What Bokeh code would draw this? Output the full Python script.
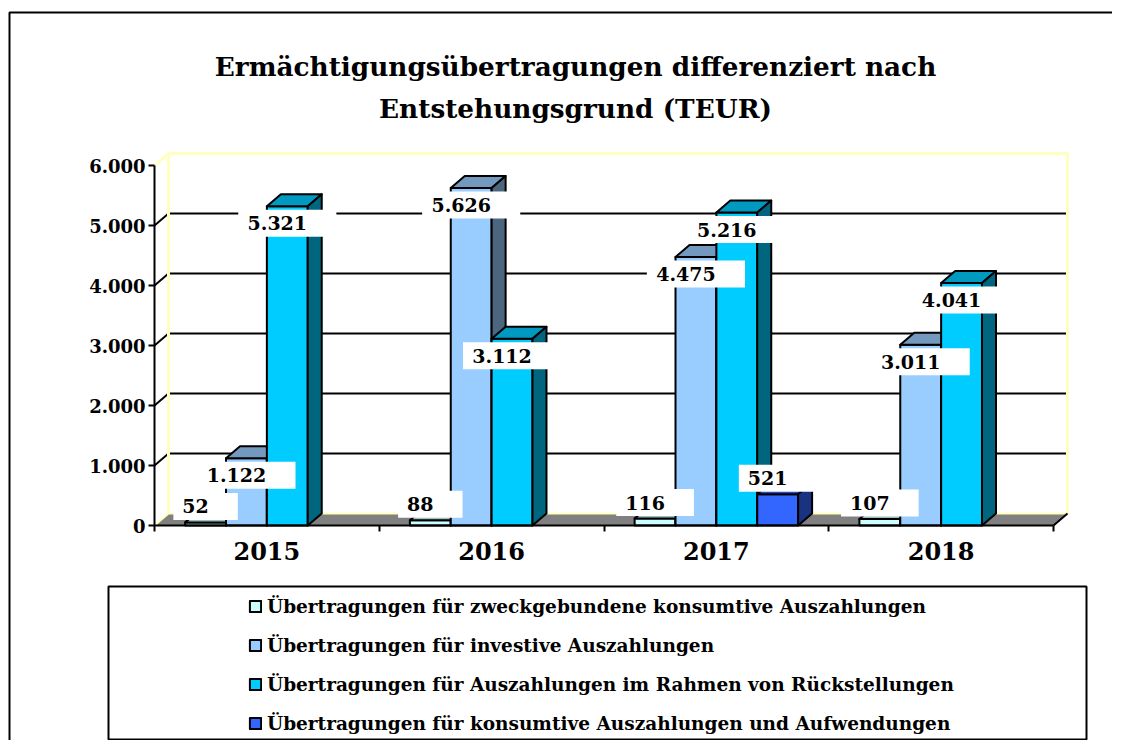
import numpy as np
from bokeh.plotting import figure
from bokeh.models import (Range1d, LinearAxis, FixedTicker, ColumnDataSource,
                          Legend, LegendItem)
from bokeh.core.properties import value
from bokeh.embed import file_html
from bokeh.resources import INLINE

# ---------------- data ----------------
years = ["2015", "2016", "2017", "2018"]
series_names = [
    "Übertragungen für zweckgebundene konsumtive Auszahlungen",
    "Übertragungen für investive Auszahlungen",
    "Übertragungen für Auszahlungen im Rahmen von Rückstellungen",
    "Übertragungen für konsumtive Auszahlungen und Aufwendungen",
]
zweckgebunden = [52, 88, 116, 107]
investiv = [1122, 5626, 4475, 3011]
rueckstellungen = [5321, 3112, 5216, 4041]
konsumtiv = [0, 0, 521, 0]
y_ticks = [0, 1000, 2000, 3000, 4000, 5000, 6000]
title_lines = ["Ermächtigungsübertragungen differenziert nach",
               "Entstehungsgrund (TEUR)"]

front_colors = ["#CCFFFF", "#99CCFF", "#00CCFF", "#3366FF"]
top_colors = ["#99BFBF", "#7399BF", "#0099BF", "#264DBF"]
side_colors = ["#668080", "#4D6680", "#006680", "#1A3380"]

FONT = "DejaVu Serif"
LAB_PX = 19

def de(v):
    return f"{v:,}".replace(",", ".")

# ---------------- geometry (pixel mapping) ----------------
W, H = 1112, 740
X0 = 154.0                    # canvas px of x = 0
SX = (1053.0 - 154.0) / 4.0   # px per category
Y0 = 525.0                    # canvas px (from top) of y = 0
SY = 0.06                     # px per unit

def fx(px):
    return (px - X0) / SX

def fy(py):
    return (Y0 - py) / SY

DX = 14.0 / SX
DY = 12.0 / SY
BW = 1.0 / 5.5
GAP = 0.75 / 5.5
NCAT = len(years)

p = figure(width=W, height=H,
           x_range=Range1d(-X0 / SX, (W - X0) / SX),
           y_range=Range1d(-(H - Y0) / SY, Y0 / SY),
           x_axis_type=None, y_axis_type=None,
           toolbar_location=None, output_backend="svg",
           min_border=0, outline_line_color=None,
           background_fill_color="white", border_fill_color="white")

# outer chart border (left + top visible)
p.line(x=[fx(9), fx(9), fx(1119)], y=[fy(770), fy(12), fy(12)],
       line_color="black", line_width=2)

# title
p.text(x=[fx(575)] * 2, y=[fy(66), fy(108)], text=title_lines,
       text_font=value(FONT), text_font_style="bold", text_font_size="26.3px",
       text_align="center", text_baseline="middle", text_color="black")

# ---------------- 3D walls ----------------
grid_vals = [t for t in y_ticks if 0 < t < max(y_ticks)]
ytop = max(y_ticks)
p.segment(x0=[DX] * len(grid_vals), y0=[g + DY for g in grid_vals],
          x1=[NCAT + DX] * len(grid_vals), y1=[g + DY for g in grid_vals],
          line_color="black", line_width=2)
p.segment(x0=[0] * len(grid_vals), y0=grid_vals,
          x1=[DX] * len(grid_vals), y1=[g + DY for g in grid_vals],
          line_color="black", line_width=2)
p.line(x=[0, DX, NCAT + DX, NCAT + DX], y=[ytop, ytop + DY, ytop + DY, DY],
       line_color="#FFFFC0", line_width=3)
p.line(x=[DX, DX], y=[DY, ytop + DY], line_color="#FFFFC0", line_width=3)
p.patch(x=[0, NCAT, NCAT + DX, DX], y=[0, 0, DY, DY],
        fill_color="#808080", line_color=None)
p.line(x=[0, DX, NCAT + DX], y=[0, DY, DY], line_color="#FFFFC0", line_width=2)
p.line(x=[NCAT, NCAT + DX], y=[0, DY], line_color="black", line_width=2)

# ---------------- bars ----------------
all_series = [zweckgebunden, investiv, rueckstellungen, konsumtiv]
renderers = []
lab = dict(x=[], y=[], t=[], w=[])
for s, vals in enumerate(all_series):
    xs, ys, cols = [], [], []
    for c, v in enumerate(vals):
        if v <= 0:
            continue
        xl = c + GAP + s * BW
        xr = xl + BW
        xs += [[xl, xr, xr, xl],
               [xl, xr, xr + DX, xl + DX],
               [xr, xr + DX, xr + DX, xr]]
        ys += [[0, 0, v, v],
               [v, v, v + DY, v + DY],
               [0, DY, v + DY, v]]
        cols += [front_colors[s], top_colors[s], side_colors[s]]
        t = de(v)
        off = 17 if v >= 1000 else -16          # px below / above the top
        lab["x"].append(xl + BW / 2)
        lab["y"].append(v - off / SY)
        lab["t"].append(t)
        tw = LAB_PX * (0.696 * sum(ch.isdigit() for ch in t) + 0.38 * t.count("."))
        lab["w"].append(tw + 38)
    src = ColumnDataSource(dict(xs=xs, ys=ys, color=cols))
    r = p.patches("xs", "ys", source=src, fill_color="color",
                  line_color="black", line_width=2, line_join="round")
    renderers.append(r)

# data labels with white boxes
lab_src = ColumnDataSource(lab)
p.rect(x="x", y="y", width="w", height=27, width_units="screen",
       height_units="screen", source=lab_src, fill_color="white",
       line_color=None)
p.text(x="x", y="y", text="t", x_offset=-10, source=lab_src,
       text_font=value(FONT), text_font_style="bold",
       text_font_size=f"{LAB_PX}px", text_color="black",
       text_align="center", text_baseline="middle")

# ---------------- axes ----------------
yaxis = LinearAxis(fixed_location=0, bounds=(0, ytop),
                   ticker=FixedTicker(ticks=y_ticks, minor_ticks=[]),
                   major_label_overrides={t: de(t) for t in y_ticks})
yaxis.axis_line_width = 2
yaxis.major_tick_line_width = 2
yaxis.major_tick_in = 0
yaxis.major_tick_out = 6
yaxis.minor_tick_line_color = None
yaxis.major_label_standoff = 3
yaxis.major_label_text_font = FONT
yaxis.major_label_text_font_style = "bold"
yaxis.major_label_text_font_size = "18px"
yaxis.major_label_text_color = "black"
p.add_layout(yaxis, "left")

xaxis = LinearAxis(fixed_location=0, bounds=(0, NCAT),
                   ticker=FixedTicker(ticks=list(range(NCAT + 1)), minor_ticks=[]))
xaxis.axis_line_width = 2
xaxis.major_tick_line_width = 2
xaxis.major_tick_in = 0
xaxis.major_tick_out = 6
xaxis.minor_tick_line_color = None
xaxis.major_label_text_color = None
p.add_layout(xaxis, "below")

cat_ticks = [i + 0.5 for i in range(NCAT)]
xlab = LinearAxis(fixed_location=0,
                  ticker=FixedTicker(ticks=cat_ticks, minor_ticks=[]),
                  major_label_overrides={t: y for t, y in zip(cat_ticks, years)})
xlab.axis_line_color = None
xlab.major_tick_line_color = None
xlab.minor_tick_line_color = None
xlab.major_tick_in = 0
xlab.major_tick_out = 0
xlab.major_label_standoff = 16
xlab.major_label_text_font = FONT
xlab.major_label_text_font_style = "bold"
xlab.major_label_text_font_size = "24px"
xlab.major_label_text_color = "black"
p.add_layout(xlab, "below")

# ---------------- legend ----------------
p.quad(left=[fx(108)], right=[fx(1086)], top=[fy(586)], bottom=[fy(739)],
       fill_color="white", line_color="black", line_width=2)

items = [LegendItem(label=n, renderers=[r], index=0)
         for n, r in zip(series_names, renderers)]
legend = Legend(items=items, location=(248, 4), orientation="vertical",
                padding=0, margin=0, spacing=13,
                glyph_width=14, glyph_height=14, label_height=26,
                label_standoff=5, border_line_color=None,
                background_fill_alpha=0,
                label_text_font=FONT, label_text_font_style="bold",
                label_text_font_size="18.5px", label_text_color="black")
p.add_layout(legend, "center")

open("out.html", "w").write(file_html(p, INLINE))
